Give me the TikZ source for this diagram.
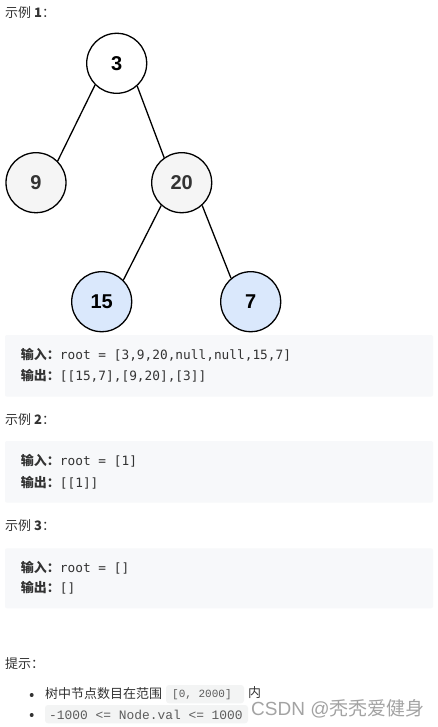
\documentclass[tikz,border=0pt]{standalone}
\usepackage{fontspec}
\setmainfont{Liberation Sans}
\newfontfamily\cjk{Noto Sans CJK SC}
\newfontfamily\dmono{DejaVu Sans Mono}
\newfontfamily\lmono{Liberation Mono}
\definecolor{txt}{HTML}{333333}
\definecolor{boxbg}{HTML}{F7F8FA}
\definecolor{codebg}{HTML}{F3F4F4}
\definecolor{grayfill}{HTML}{F5F5F5}
\definecolor{bluefill}{HTML}{DAE8FC}
\definecolor{wm}{HTML}{A3A3A3}
\begin{document}
\begin{tikzpicture}[x=1pt,y=-1pt,
  tnode/.style={circle, draw=black, line width=1.3pt, minimum size=60pt, inner sep=0pt,
    font=\bfseries\fontsize{20}{24}\selectfont},
  edge/.style={line width=1.3pt, black},
  heading/.style={anchor=west, inner sep=0pt, text=txt, font=\cjk\fontsize{13}{15}\selectfont},
  codeline/.style={anchor=west, inner sep=0pt, text=txt, font=\fontsize{13}{15}\selectfont},
  bigbox/.style={fill=boxbg, draw=none, rounded corners=2pt}]
\fill[white] (0,0) rectangle (437,727);
\useasboundingbox (0,0) rectangle (437,727);

% heading 1
\node[heading] (h1) at (5,13) {示例 \textbf{1}：};

% tree
\node[tnode, fill=white] (n3) at (116.7,63.3) {3};
\node[tnode, fill=grayfill, text=txt] (n9) at (36,182.7) {9};
\node[tnode, fill=grayfill, text=txt] (n20) at (181.7,182.7) {20};
\node[tnode, fill=bluefill] (n15) at (101.7,301.7) {15};
\node[tnode, fill=bluefill] (n7) at (250.7,301.7) {7};
\draw[edge] (n3.225) -- (n9.45);
\draw[edge] (n3.312) -- (n20.125);
\draw[edge] (n20.228) -- (n15.45);
\draw[edge] (n20.312) -- (n7.130);

% example 1 box
\fill[bigbox] (5,335) rectangle (433,396.7);
\node[codeline] (c1a) at (20.7,355) {{\cjk\bfseries 输入：}{\dmono\fontsize{12.8}{15}\selectfont root = [3,9,20,null,null,15,7]}};
\node[codeline] (c1b) at (20.7,376.2) {{\cjk\bfseries 输出：}{\dmono\fontsize{12.8}{15}\selectfont [[15,7],[9,20],[3]]}};

% example 2
\node[heading] (h2) at (5,419.3) {示例 \textbf{2}：};
\fill[bigbox] (5,441) rectangle (433,502.7);
\node[codeline] (c2a) at (20.7,461) {{\cjk\bfseries 输入：}{\dmono\fontsize{12.8}{15}\selectfont root = [1]}};
\node[codeline] (c2b) at (20.7,482.3) {{\cjk\bfseries 输出：}{\dmono\fontsize{12.8}{15}\selectfont [[1]]}};

% example 3
\node[heading] (h3) at (5,526) {示例 \textbf{3}：};
\fill[bigbox] (5,548.3) rectangle (433,608.3);
\node[codeline] (c3a) at (20.7,567.7) {{\cjk\bfseries 输入：}{\dmono\fontsize{12.8}{15}\selectfont root = []}};
\node[codeline] (c3b) at (20.7,587.3) {{\cjk\bfseries 输出：}{\dmono\fontsize{12.8}{15}\selectfont []}};

% hints
\node[heading] (h4) at (5,663.3) {提示：};
\fill[txt] (31.7,695) circle (2pt);
\fill[txt] (31.7,715) circle (2pt);
\node[heading] (t1) at (45,694) {树中节点数目在范围};
\fill[codebg, rounded corners=3pt] (166,685) rectangle (244,703.3);
\node[anchor=west, inner sep=0pt, text=txt!80, font=\lmono\fontsize{11}{13}\selectfont] (k1) at (172,694.5) {[0, 2000]};
\node[heading] (t2) at (248,692.5) {内};
\fill[codebg, rounded corners=3pt] (45,705) rectangle (248,723.3);
\node[anchor=west, inner sep=0pt, text=txt!80, font=\lmono\fontsize{12.9}{15}\selectfont] (k2) at (49,714.5) {-1000 <= Node.val <= 1000};

% watermark
\node[anchor=west, inner sep=0pt, text=wm, font=\fontsize{19}{22}\selectfont] (wm) at (251,709) {CSDN @{\cjk 秃秃爱健身}};
\end{tikzpicture}
\end{document}
